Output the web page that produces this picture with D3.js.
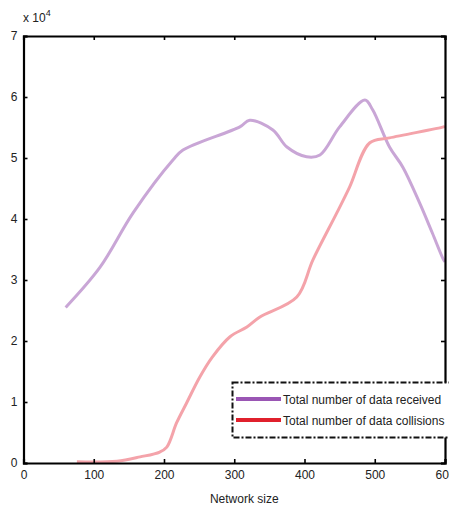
<!DOCTYPE html>
<html><head><meta charset="utf-8">
<script src="https://cdn.jsdelivr.net/npm/d3@7"></script>
<style>
body{margin:0;background:#fff;overflow:hidden}
text{font-family:"Liberation Sans",Arial,sans-serif;fill:#222}
</style></head><body>
<svg id="c" width="449" height="506"></svg>
<script>
const xTicks=[0,100,200,300,400,500,600];
const yTicks=[0,1,2,3,4,5,6,7];
const receivedX=[60,109,156,213,227,308,322,355,375,403,422,450,486,497,521,540,564,582,598,600];
const receivedY=[2.55,3.21,4.10,4.97,5.13,5.51,5.62,5.46,5.18,5.02,5.05,5.51,5.95,5.79,5.18,4.85,4.26,3.77,3.33,3.30];
const collisionsX=[76,133,166,194,204,218,232,251,269,294,318,336,389,412,446,464,493,521,598,600];
const collisionsY=[0.02,0.03,0.10,0.18,0.26,0.66,0.98,1.41,1.74,2.07,2.23,2.39,2.72,3.33,4.10,4.52,5.25,5.33,5.51,5.52];
const seriesNames=["Total number of data received","Total number of data collisions"];
const lineColors=["#c9a6d6","#f4a3aa"];
const legendColors=["#9a56b4","#e0202c"];

const svg=d3.select("#c");
const L=23.5,R=445,T=36,B=463;
const x=d3.scaleLinear().domain([0,600]).range([L,R]);
const y=d3.scaleLinear().domain([0,7]).range([B,T]);

const line=d3.line().x(d=>x(d[0])).y(d=>y(d[1])).curve(d3.curveCatmullRom.alpha(0.5));
const series=[d3.zip(receivedX,receivedY),d3.zip(collisionsX,collisionsY)];
series.forEach((s,i)=>{
  svg.append("path").attr("d",line(s)).attr("fill","none")
    .attr("stroke",lineColors[i]).attr("stroke-width",3).attr("stroke-linejoin","round");
});

const ax=svg.append("g");
const axB=d3.axisBottom(x).tickValues(xTicks).tickSize(-4).tickPadding(7).tickFormat(d3.format("d"));
const axT=d3.axisTop(x).tickValues(xTicks).tickSize(-4).tickFormat("");
const axL=d3.axisLeft(y).tickValues(yTicks).tickSize(-4).tickPadding(6).tickFormat(d3.format("d"));
const axR=d3.axisRight(y).tickValues(yTicks).tickSize(-4).tickFormat("");
ax.append("g").attr("transform",`translate(0,${B})`).call(axB);
ax.append("g").attr("transform",`translate(0,${T})`).call(axT);
ax.append("g").attr("transform",`translate(${L},0)`).call(axL);
ax.append("g").attr("transform",`translate(${R},0)`).call(axR);
ax.selectAll(".domain").attr("stroke","#000").attr("stroke-width",2.2);
ax.selectAll(".tick line").attr("stroke","#000").attr("stroke-width",1.6);
ax.selectAll("text").attr("font-size",12).attr("font-family",null).style("fill","#222");

const ex=svg.append("text").attr("x",23).attr("y",22).attr("font-size",12);
ex.append("tspan").text("x 10");
ex.append("tspan").attr("dy",-6).attr("font-size",9).text("4");

svg.append("text").attr("x",(L+R)/2+10).attr("y",503).attr("text-anchor","middle")
  .attr("font-size",12).text("Network size");

const lg=svg.append("g");
lg.append("rect").attr("x",232.5).attr("y",382.5).attr("width",240).attr("height",55)
  .attr("fill","#fff").attr("stroke","#111").attr("stroke-width",2)
  .attr("stroke-dasharray","6,2,2,2");
seriesNames.forEach((n,i)=>{
  const yy=399+i*21;
  lg.append("line").attr("x1",236).attr("x2",281).attr("y1",yy).attr("y2",yy)
    .attr("stroke",legendColors[i]).attr("stroke-width",4);
  lg.append("text").attr("x",283).attr("y",yy+4.5).attr("font-size",12).text(n);
});
</script></body></html>
